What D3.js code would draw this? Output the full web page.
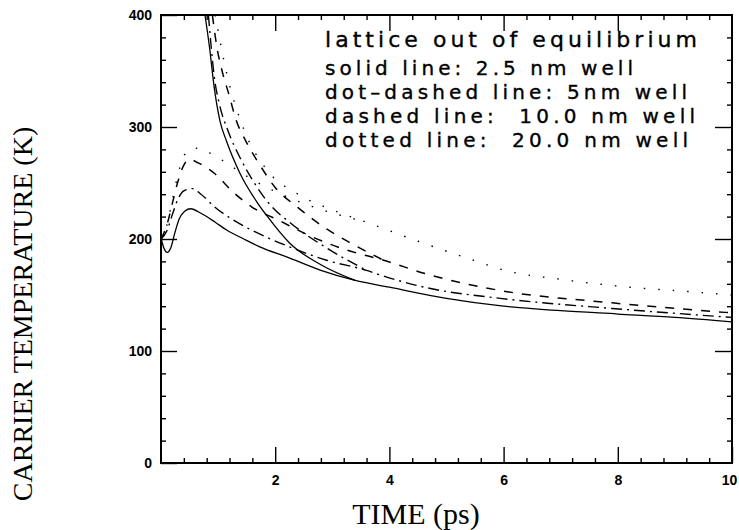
<!DOCTYPE html>
<html>
<head>
<meta charset="utf-8">
<script src="https://cdn.jsdelivr.net/npm/d3@7"></script>
<style>
  html, body { margin: 0; padding: 0; background: #fff; }
  svg { display: block; }
</style>
</head>
<body>
<svg id="chart" width="739" height="530"></svg>
<script>
// Carrier temperature vs time, four well widths, each with a hot-start and a cold-start branch.

// Axis tick values
const xMajorTicks = [2, 4, 6, 8, 10];
const xMinorTicks = d3.range(0.4, 10, 0.4).filter(v => Math.abs(v / 2 - Math.round(v / 2)) > 1e-6);
const yMajorTicks = [0, 100, 200, 300, 400];
const yMinorTicks = d3.range(20, 400, 20).filter(v => v % 100 !== 0);

// 2.5 nm well (solid)
const solidHotTime = [0.77, 0.85, 0.93, 1.03, 1.15, 1.38, 1.68, 1.85, 2.26, 2.8, 3.4];
const solidHotTemp = [400, 371, 336, 306, 287, 259, 233, 221, 196, 177, 163];
const solidColdTime = [0, 0.05, 0.11, 0.17, 0.24, 0.32, 0.42, 0.52, 0.7, 0.95, 1.15, 1.45, 1.73, 2.2, 2.8, 3.4, 4, 5, 6, 7, 8, 9, 10];
const solidColdTemp = [201, 192, 188, 192, 205, 218, 225, 227, 223, 215, 208, 200, 193, 184, 172, 163, 157, 147, 140, 136, 133, 130, 126];

// 5 nm well (dot-dashed)
const dotDashHotTime = [0.83, 0.88, 0.93, 1.02, 1.17, 1.38, 1.61, 1.87, 2.3, 2.9, 3.6];
const dotDashHotTemp = [400, 371, 346, 321, 297, 273, 252, 233, 213, 192, 172];
const dotDashColdTime = [0, 0.1, 0.2, 0.3, 0.4, 0.55, 0.7, 0.93, 1.33, 1.79, 2.3, 2.9, 3.6, 3.83, 4.7, 5.94, 7.9, 10];
const dotDashColdTemp = [200, 207, 222, 236, 243, 245, 240, 229, 215, 203, 192, 181, 172, 168, 156, 147, 138, 130];

// 10 nm well (dashed)
const dashHotTime = [0.9, 0.98, 1.07, 1.19, 1.31, 1.49, 1.72, 2.0, 2.4, 2.9, 3.3, 3.9];
const dashHotTemp = [400, 371, 350, 329, 307, 287, 267, 246, 228, 209, 197, 181];
const dashColdTime = [0, 0.1, 0.2, 0.3, 0.4, 0.5, 0.65, 0.95, 1.26, 1.58, 2.05, 2.6, 3.2, 3.9, 4.7, 5.94, 7.9, 10];
const dashColdTemp = [200, 212, 232, 252, 266, 271, 268, 258, 242, 229, 217, 203, 191, 181, 168, 154, 143, 134];

// 20 nm well (dotted)
const dotHotTime = [0.95, 1.15, 1.45, 1.85, 2.4, 3.0, 3.6, 4.5, 5.3, 6.1, 7.0, 8.2, 9.0, 10];
const dotHotTemp = [400, 348, 298, 262, 240, 226, 215, 198, 184, 171, 164, 157, 154, 150];
const dotColdTime = [0, 0.1, 0.2, 0.3, 0.4, 0.5, 0.65, 0.85, 1.2, 1.6, 2.1, 2.7, 3.3, 3.6];
const dotColdTemp = [200, 212, 235, 258, 274, 280, 281, 277, 266, 253, 240, 228, 219, 215];

const legendLines = [
  "lattice out of equilibrium",
  "solid line: 2.5 nm well",
  "dot\u2013dashed line: 5nm well",
  "dashed line:  10.0 nm well",
  "dotted line:  20.0 nm well"
];

const svg = d3.select("#chart");
const plotLeft = 161, plotRight = 732, plotTop = 15, plotBottom = 463;

const x = d3.scaleLinear().domain([0, 10]).range([plotLeft, plotRight]);
const y = d3.scaleLinear().domain([0, 400]).range([plotBottom, plotTop]);

svg.append("defs").append("clipPath").attr("id", "plot-clip")
  .append("rect")
  .attr("x", plotLeft).attr("y", plotTop)
  .attr("width", plotRight - plotLeft).attr("height", plotBottom - plotTop);

// Curves
const series = [
  { t: solidHotTime, v: solidHotTemp, dash: null, w: 1.3 },
  { t: solidColdTime, v: solidColdTemp, dash: null, w: 1.3 },
  { t: dotDashHotTime, v: dotDashHotTemp, dash: "11,5,2,5", w: 1.4 },
  { t: dotDashColdTime, v: dotDashColdTemp, dash: "11,5,2,5", w: 1.4 },
  { t: dashHotTime, v: dashHotTemp, dash: "9,9", w: 1.5 },
  { t: dashColdTime, v: dashColdTemp, dash: "9,9", w: 1.5 },
  { t: dotHotTime, v: dotHotTemp, dash: "1.5,13", w: 1.4 },
  { t: dotColdTime, v: dotColdTemp, dash: "1.5,13", w: 1.4 }
];

const line = d3.line()
  .x(d => x(d[0]))
  .y(d => y(d[1]))
  .curve(d3.curveMonotoneX);

const curves = svg.append("g").attr("clip-path", "url(#plot-clip)");
series.forEach(s => {
  const pts = s.t.map((t, i) => [t, s.v[i]]);
  const p = curves.append("path")
    .attr("d", line(pts))
    .attr("fill", "none")
    .attr("stroke", "#000")
    .attr("stroke-width", s.w);
  if (s.dash) p.attr("stroke-dasharray", s.dash);
});

// Axes with inward ticks on all four sides
function styleAxis(g) {
  g.select(".domain").remove();
  g.selectAll(".tick line").attr("stroke", "#000").attr("stroke-width", 1.4);
  g.selectAll(".tick text")
    .attr("fill", "#000")
    .style("font-family", "'Liberation Sans', Arial, sans-serif")
    .style("font-weight", "bold")
    .style("font-size", "14px");
}

const xAxisG = svg.append("g").attr("transform", `translate(0,${plotBottom})`)
  .call(d3.axisBottom(x).tickValues(xMajorTicks).tickSize(-16).tickPadding(12).tickFormat(d3.format("d")))
  .call(styleAxis);
// keep the last label inside the page edge
xAxisG.selectAll(".tick text").filter(d => d === 10).attr("dx", -3);

svg.append("g").attr("transform", `translate(0,${plotBottom})`)
  .call(d3.axisBottom(x).tickValues(xMinorTicks).tickSize(-5).tickFormat(""))
  .call(styleAxis);
svg.append("g").attr("transform", `translate(0,${plotTop})`)
  .call(d3.axisTop(x).tickValues(xMajorTicks.slice(0, 4)).tickSize(-16).tickFormat(""))
  .call(styleAxis);
svg.append("g").attr("transform", `translate(0,${plotTop})`)
  .call(d3.axisTop(x).tickValues(xMinorTicks).tickSize(-5).tickFormat(""))
  .call(styleAxis);

svg.append("g").attr("transform", `translate(${plotLeft},0)`)
  .call(d3.axisLeft(y).tickValues(yMajorTicks).tickSize(-16).tickPadding(9).tickFormat(d3.format("d")))
  .call(styleAxis);
svg.append("g").attr("transform", `translate(${plotLeft},0)`)
  .call(d3.axisLeft(y).tickValues(yMinorTicks).tickSize(-5).tickFormat(""))
  .call(styleAxis);
svg.append("g").attr("transform", `translate(${plotRight},0)`)
  .call(d3.axisRight(y).tickValues(yMajorTicks.slice(1, 4)).tickSize(-17).tickFormat(""))
  .call(styleAxis);
svg.append("g").attr("transform", `translate(${plotRight},0)`)
  .call(d3.axisRight(y).tickValues(yMinorTicks).tickSize(-5).tickFormat(""))
  .call(styleAxis);

// Frame
svg.append("rect")
  .attr("x", plotLeft).attr("y", plotTop)
  .attr("width", plotRight - plotLeft).attr("height", plotBottom - plotTop)
  .attr("fill", "none").attr("stroke", "#000").attr("stroke-width", 2);

// Legend text
const legendX = 325;
const legendY = [47, 75, 99, 123, 147];
const legendW = [372, 308, 362, 370, 363];
const legendSize = [22, 20, 20, 20, 20];
legendLines.forEach((txt, i) => {
  svg.append("text")
    .attr("x", legendX).attr("y", legendY[i])
    .attr("textLength", legendW[i])
    .attr("lengthAdjust", "spacing")
    .style("white-space", "pre")
    .style("font-family", "'DejaVu Sans', sans-serif")
    .style("font-size", legendSize[i] + "px")
    .attr("fill", "#000")
    .attr("stroke", "#000")
    .attr("stroke-width", 0.35)
    .text(txt);
});

// Axis titles
svg.append("text")
  .attr("x", 416).attr("y", 524)
  .attr("text-anchor", "middle")
  .style("font-family", "'Liberation Serif', 'Times New Roman', serif")
  .style("font-size", "30px")
  .attr("fill", "#000")
  .text("TIME (ps)");

svg.append("text")
  .attr("transform", "translate(32,314) rotate(-90)")
  .attr("text-anchor", "middle")
  .style("font-family", "'Liberation Serif', 'Times New Roman', serif")
  .style("font-size", "28px")
  .attr("fill", "#000")
  .text("CARRIER TEMPERATURE (K)");
</script>
</body>
</html>
